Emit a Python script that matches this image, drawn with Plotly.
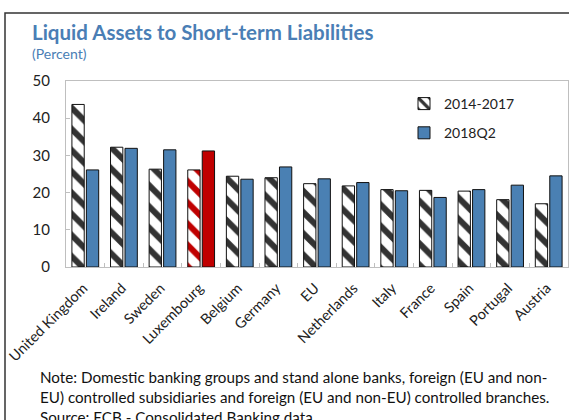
import plotly.graph_objects as go

# Liquid assets to short-term liabilities, by country (percent)
countries = ["United Kingdom", "Ireland", "Sweden", "Luxembourg", "Belgium", "Germany",
             "EU", "Netherlands", "Italy", "France", "Spain", "Portugal", "Austria"]
avg_2014_2017 = [43.7, 32.2, 26.3, 26.1, 24.4, 24.0, 22.4, 21.8, 20.8, 20.6, 20.4, 18.1, 17.0]
q2_2018 = [26.1, 31.9, 31.5, 31.2, 23.6, 26.9, 23.7, 22.7, 20.5, 18.7, 20.8, 22.0, 24.5]
y_ticks = [0, 10, 20, 30, 40, 50]

BLUE = "#4a80b3"
RED = "#c00000"
HATCH = "#333333"
TITLE_BLUE = "#4a7eb5"
FONT = "Lato, Open Sans, sans-serif"

highlight = "Luxembourg"
hatch_colors = [RED if c == highlight else HATCH for c in countries]
solid_colors = [RED if c == highlight else BLUE for c in countries]

fig = go.Figure()
fig.add_trace(go.Bar(
    x=countries, y=avg_2014_2017, name="2014-2017",
    legendgroup="a",
    marker=dict(color="white",
                line=dict(color="#111111", width=1),
                pattern=dict(shape="\\", fgcolor=hatch_colors, bgcolor="white",
                             fgopacity=1, size=15, solidity=0.4, fillmode="overlay")),
))
fig.add_trace(go.Bar(
    x=countries, y=q2_2018, name="2018Q2",
    legendgroup="b",
    marker=dict(color=solid_colors, line=dict(color="#111111", width=1)),
))

# Left/top frame around the whole chart panel
L, R, T, B = 66, 568, 81, 267
pw, ph = R - L, B - T
fig.add_shape(type="rect", xref="paper", yref="paper",
              x0=(5 - L) / pw, x1=(600 - L) / pw,
              y0=(B - 460) / ph, y1=1 + (T - 13) / ph,
              line=dict(color="#333333", width=1.5), layer="below")

fig.add_annotation(xref="paper", yref="paper", x=(30 - L) / pw, y=1 + (T - 32) / ph,
                   xanchor="left", yanchor="middle", showarrow=False,
                   text="<b>Liquid Assets to Short-term Liabilities</b>",
                   font=dict(family=FONT, size=20.5, color=TITLE_BLUE))
fig.add_annotation(xref="paper", yref="paper", x=(30 - L) / pw, y=1 + (T - 54) / ph,
                   xanchor="left", yanchor="middle", showarrow=False,
                   text="(Percent)",
                   font=dict(family=FONT, size=14, color=TITLE_BLUE))
fig.add_annotation(xref="paper", yref="paper", x=(38 - L) / pw, y=(B - 366) / ph,
                   xanchor="left", yanchor="top", showarrow=False, align="left",
                   text="Note: Domestic banking groups and stand alone banks, foreign (EU and non-<br>"
                        "EU) controlled subsidiaries and foreign (EU and non-EU) controlled branches.<br>"
                        "Source: ECB - Consolidated Banking data.",
                   font=dict(family=FONT, size=15.2, color="#111111"))

fig.update_layout(
    width=569, height=420,
    margin=dict(l=L, r=569 - R, t=T, b=420 - B),
    paper_bgcolor="white", plot_bgcolor="white",
    barmode="group", bargap=0.25, bargroupgap=0.15,
    font=dict(family=FONT, size=13, color="#222222"),
    showlegend=True,
    legend=dict(x=(404 - L) / pw, y=1 - (88 - T) / ph, xanchor="left", yanchor="top",
                bgcolor="rgba(0,0,0,0)", font=dict(size=14, color="#222222"),
                tracegroupgap=8, itemwidth=30),
    xaxis=dict(type="category", tickangle=-45, showline=True, linecolor="#bfbfbf",
               mirror=True, ticks="inside", ticklen=4, tickcolor="#bfbfbf",
               tickson="boundaries", showgrid=False, ticklabelshift=-2,
               ticklabelstandoff=6,
               tickfont=dict(family=FONT, size=14.5, color="#222222")),
    yaxis=dict(range=[0, 50], tickvals=y_ticks, showline=True, linecolor="#bfbfbf",
               mirror=True, ticks="inside", ticklen=4, tickcolor="#bfbfbf",
               showgrid=False, zeroline=False, ticklabelstandoff=12,
               tickfont=dict(family=FONT, size=15, color="#222222")),
)

fig.write_html("out.html")
